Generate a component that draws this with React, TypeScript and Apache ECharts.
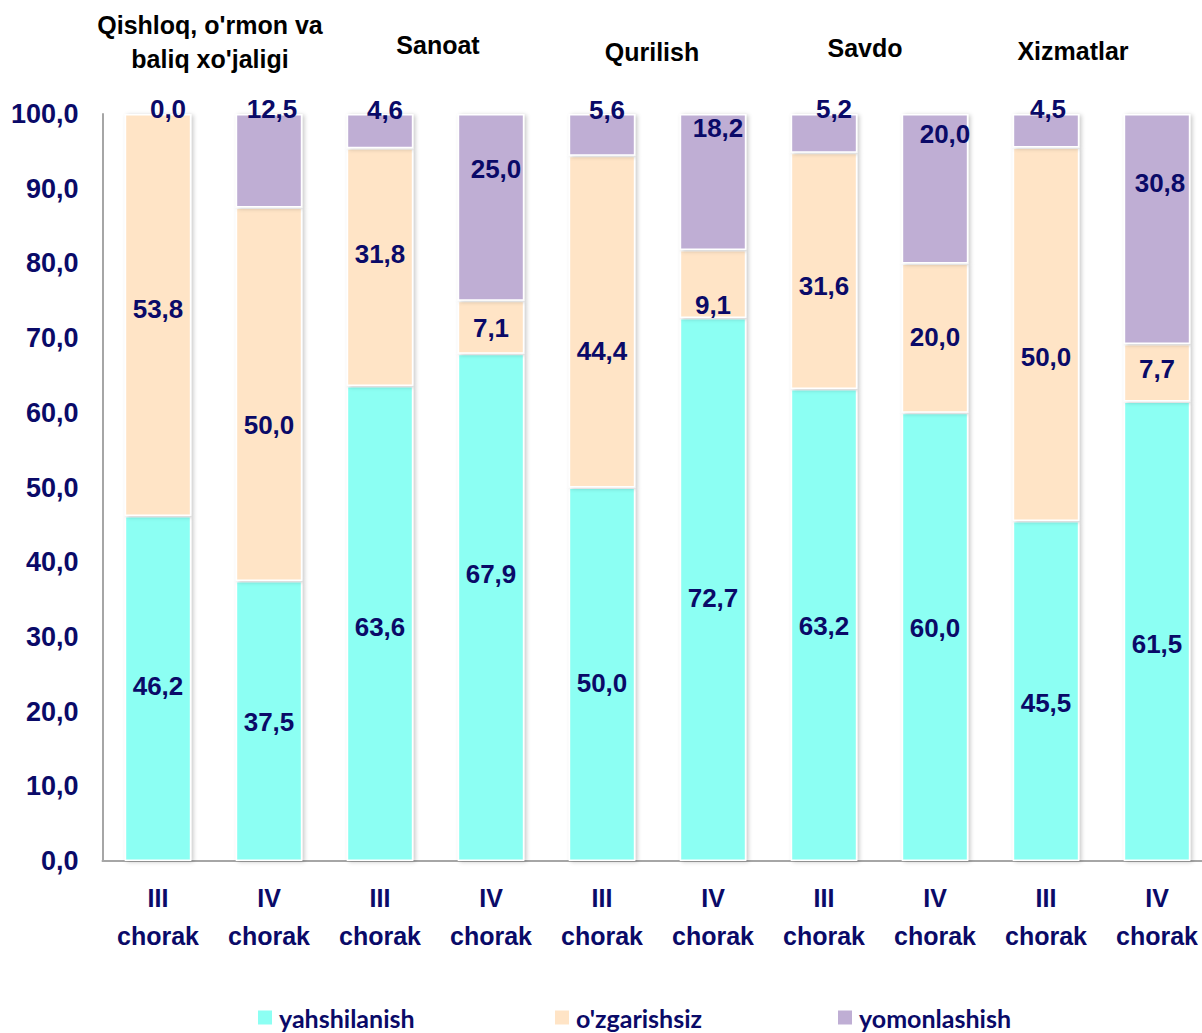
import React, { useEffect, useRef } from "react";
import * as echarts from "echarts";

const categories = [
  "III\nchorak", "IV\nchorak", "III\nchorak", "IV\nchorak", "III\nchorak",
  "IV\nchorak", "III\nchorak", "IV\nchorak", "III\nchorak", "IV\nchorak",
];
const groupTitles = ["Qishloq, o'rmon va\nbaliq xo'jaligi", "Sanoat", "Qurilish", "Savdo", "Xizmatlar"];
const seriesNames = ["yahshilanish", "o'zgarishsiz", "yomonlashish"];
const improved = [46.2, 37.5, 63.6, 67.9, 50.0, 72.7, 63.2, 60.0, 45.5, 61.5];
const unchanged = [53.8, 50.0, 31.8, 7.1, 44.4, 9.1, 31.6, 20.0, 50.0, 7.7];
const worsened = [0.0, 12.5, 4.6, 25.0, 5.6, 18.2, 5.2, 20.0, 4.5, 30.8];
const yTicks = [0, 10, 20, 30, 40, 50, 60, 70, 80, 90, 100];

// label placement tweaks (pixels), matching the hand-placed labels of the original
const offImprovedY = [-2, 1, 4, -33, 9, 9, 1, -9, 12, 13];
const offUnchangedY = [-6, 31, -13, 1, 29, 21, 15, -1, 23, -4];
const offWorsenedY = [-5, -52, -21, -38, -25, -54, -24, -55, -22, -46];
const offWorsenedX = [10, 3, 5, 5, 5, 5, 10, 10, 2, 3];

const NAVY = "#0a0a68";
const COLORS = ["#8cfff3", "#ffe4c6", "#bfaed4"];
const FONT = "'Liberation Sans', Arial, sans-serif";

const fmt = (v: number) => v.toFixed(1).replace(".", ",");

export default function App() {
  const ref = useRef<HTMLDivElement>(null);
  useEffect(() => {
    if (!ref.current) return;
    document.body.style.overflow = "hidden";
    const chart = echarts.init(ref.current, null, { renderer: "svg" });
    const mk = (vals: number[], offX: number[] | null, offY: number[]) =>
      vals.map((v, i) => ({
        value: v,
        label: { offset: [offX ? offX[i] : 0, offY[i]] },
      }));
    const dataSets = [
      mk(improved, null, offImprovedY),
      mk(unchanged, null, offUnchangedY),
      mk(worsened, offWorsenedX, offWorsenedY),
    ];
    const titleX = [210, 438, 652, 865, 1073];
    const titleY = [42, 45, 52, 48, 51];
    chart.setOption({
      animation: false,
      grid: { left: 102.5, width: 1110, top: 114, bottom: 172, containLabel: false },
      xAxis: {
        type: "category",
        data: categories,
        axisLine: { lineStyle: { color: "#a6a6a6", width: 2 } },
        axisTick: { show: false },
        axisLabel: {
          interval: 0,
          color: NAVY,
          fontFamily: FONT,
          fontWeight: "bold",
          fontSize: 25,
          lineHeight: 38,
          margin: 18,
        },
      },
      yAxis: {
        type: "value",
        min: 0,
        max: 100,
        interval: 10,
        axisLine: { show: true, lineStyle: { color: "#a6a6a6", width: 2 } },
        axisTick: { show: false },
        splitLine: { show: false },
        axisLabel: {
          color: NAVY,
          fontFamily: FONT,
          fontWeight: "bold",
          fontSize: 27,
          margin: 24,
          formatter: (v: number) => (yTicks.includes(v) ? fmt(v) : ""),
        },
      },
      legend: seriesNames.map((n, i) => ({
        data: [n],
        left: [253, 550, 833][i],
        top: 1000,
        itemWidth: 14,
        itemHeight: 14,
        icon: "rect",
        itemStyle: { borderWidth: 0 },
        textStyle: {
          color: NAVY,
          fontFamily: "Lato, 'Open Sans', sans-serif",
          fontWeight: "bold",
          fontSize: 25,
          padding: [0, 0, 0, 2],
        },
      })),
      graphic: groupTitles.map((t, i) => ({
        type: "text",
        x: titleX[i],
        y: titleY[i],
        style: {
          text: t,
          fill: "#000000",
          font: `bold 25px ${FONT}`,
          textAlign: "center",
          textVerticalAlign: "middle",
          lineHeight: 34,
        },
      })),
      series: seriesNames.map((n, i) => ({
        name: n,
        type: "bar",
        stack: "total",
        barWidth: "60%",
        data: dataSets[i],
        itemStyle: {
          color: COLORS[i],
          borderColor: "#ffffff",
          borderWidth: 1.5,
          shadowColor: "rgba(0,0,0,0.22)",
          shadowBlur: 4,
          shadowOffsetX: 2,
          shadowOffsetY: 1,
        },
        label: {
          show: true,
          position: "inside",
          color: NAVY,
          fontFamily: FONT,
          fontWeight: "bold",
          fontSize: 26,
          formatter: (p: any) => fmt(p.value),
        },
      })),
    });
    return () => chart.dispose();
  }, []);
  return (
    <div
      ref={ref}
      style={{ position: "fixed", left: 0, top: 0, width: 1232, height: 1033, background: "#fff" }}
    />
  );
}
